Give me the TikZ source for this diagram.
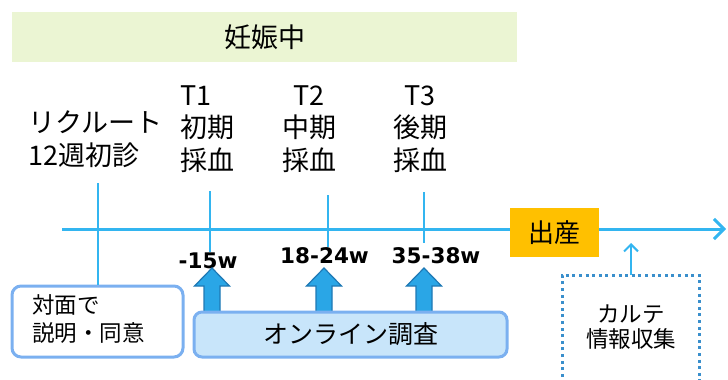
\documentclass[tikz,border=0pt]{standalone}
\usepackage{fontspec}
\setmainfont{Noto Sans CJK JP}
\newfontfamily\wfont{DejaVu Sans}
\usetikzlibrary{arrows.meta}
\definecolor{lineblue}{HTML}{33B5F0}
\definecolor{bannergreen}{HTML}{EBF5D3}
\definecolor{boxborder}{HTML}{7BB0F0}
\definecolor{onlinefill}{HTML}{C8E5FA}
\definecolor{arrowfill}{HTML}{2AA6E6}
\definecolor{arrowedge}{HTML}{1E78B4}
\definecolor{birthorange}{HTML}{FFC000}
\definecolor{dotblue}{HTML}{3A8FCC}
\tikzset{
  jp/.style={inner sep=0pt, font=\fontsize{27}{32}\selectfont},
  jpsmall/.style={inner sep=0pt, font=\fontsize{22.5}{28}\selectfont},
  wlabel/.style={inner sep=0pt, font=\wfont\bfseries\fontsize{21.5}{24}\selectfont},
  tick/.style={draw=lineblue, line width=1.8pt},
  roundbox/.style={draw=boxborder, line width=3pt, rounded corners=9pt, inner sep=0pt},
  barrow/.style={fill=arrowfill, draw=arrowedge, line width=1.2pt, line join=miter},
}
\begin{document}
\begin{tikzpicture}[x=1pt,y=-1pt]
\useasboundingbox (0,0) rectangle (728,380);
% banner
\node[fill=bannergreen, minimum width=505, minimum height=50, inner sep=0pt,
      font=\fontsize{27}{32}\selectfont] (banner) at (264.5,37) {妊娠中};
% top labels
\node[jp, anchor=base west] (rec1) at (28,132.5) {リクルート};
\node[jp, anchor=base west] (rec2) at (28,165) {12週初診};
\node[jp, anchor=base west] (t1a) at (180,105) {T1};
\node[jp, anchor=base west] (t1b) at (180,137.5) {初期};
\node[jp, anchor=base west] (t1c) at (180,170) {採血};
\node[jp, anchor=base] (t2a) at (309,105) {T2};
\node[jp, anchor=base] (t2b) at (309,137.5) {中期};
\node[jp, anchor=base] (t2c) at (309,170) {採血};
\node[jp, anchor=base] (t3a) at (420,105) {T3};
\node[jp, anchor=base] (t3b) at (420,137.5) {後期};
\node[jp, anchor=base] (t3c) at (420,170) {採血};
% week labels
\node[wlabel, anchor=base] (w1) at (208,268) {-15w};
\node[wlabel, anchor=base] (w2) at (324.5,263) {18-24w};
\node[wlabel, anchor=base] (w3) at (436,263) {35-38w};
% boxes
\node[roundbox, fill=white, minimum width=171, minimum height=71] (taimen) at (97.5,321.5) {};
\node[jpsmall, anchor=base west] (taimen1) at (32,313) {対面で};
\node[jpsmall, anchor=base west] (taimen2) at (32,341) {説明・同意};
% block arrows
\foreach \cx in {212,324,424} {
  \draw[barrow] ({\cx-8},313) -- ({\cx-8},286) -- ({\cx-17.5},286) -- (\cx,268)
     -- ({\cx+17.5},286) -- ({\cx+8},286) -- ({\cx+8},313) -- cycle;
}
\node[roundbox, fill=onlinefill, minimum width=313, minimum height=45, rounded corners=8pt,
      font=\fontsize{25}{30}\selectfont] (online) at (350.5,334.5) {オンライン調査};
% ticks
\coordinate (k1) at (97.7,183);
\coordinate (k2) at (210,191);
\coordinate (k3) at (328,195);
\coordinate (k4) at (424,192);
\draw[tick] (k1) -- (taimen.north -| k1);
\draw[tick] (k2) -- (w1.north -| k2);
\draw[tick] (k3) -- (w2.north -| k3);
\draw[tick] (k4) -- (424,243);
% timeline
\coordinate (tlstart) at (62,229);
\coordinate (tlend) at (726,229);
\draw[draw=lineblue, line width=3pt, -{Straight Barb[length=10pt,width=20pt,line width=3pt]}] (tlstart) -- (tlend);
\node[fill=birthorange, minimum width=89, minimum height=49, inner sep=0pt,
      font=\fontsize{26}{30}\selectfont] (birth) at (554.5,232.5) {出産};
% karte box
\coordinate (kb1) at (562,390);
\coordinate (kb2) at (562,275);
\coordinate (kb3) at (699,275);
\coordinate (kb4) at (699,390);
\coordinate (kbtop) at (631,275);
\draw[dotblue, line width=3pt, dash pattern=on 3pt off 3.6pt] (kb1) -- (kb2) -- (kb3) -- (kb4);
\node[jpsmall, anchor=base] (karte1) at (631,322) {カルテ};
\node[jpsmall, anchor=base] (karte2) at (631,347) {情報収集};
\coordinate (kbtip) at (631,243);
\draw[lineblue, line width=2pt, -{Straight Barb[length=7pt,width=14pt,line width=2pt]}] (kbtop) -- (kbtip);
\end{tikzpicture}
\end{document}
